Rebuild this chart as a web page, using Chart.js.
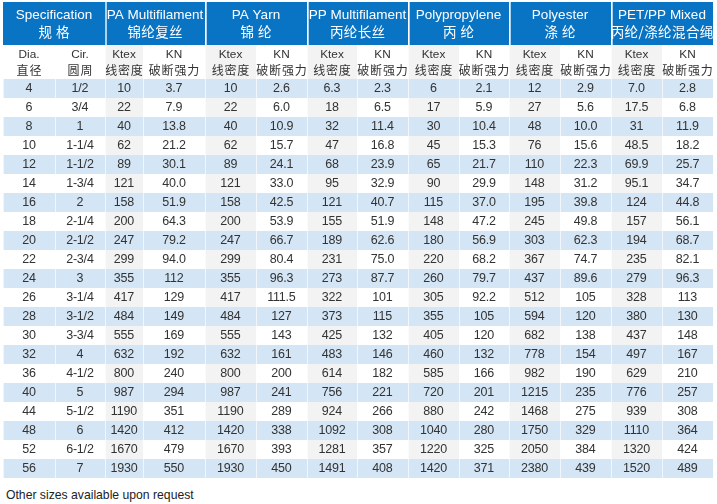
<!DOCTYPE html>
<html><head><meta charset="utf-8">
<script src="https://cdn.jsdelivr.net/npm/chart.js@4.4.1/dist/chart.umd.min.js"></script>
<style>
html,body{margin:0;padding:0;background:#fff;width:717px;height:504px;overflow:hidden}
canvas{position:absolute;left:0}
#h1{top:0} #h2{top:45px} #body{top:79px}
#foot{position:absolute;left:6px;top:488px;font:12.2px "Liberation Sans",Arial,sans-serif;color:#222;white-space:nowrap}
</style></head>
<body>
<canvas id="h1" width="717" height="45"></canvas>
<canvas id="h2" width="717" height="34"></canvas>
<canvas id="body" width="717" height="399"></canvas>
<div id="foot">Other sizes available upon request</div>
<script>
// ---- data ----
const groupsEn = ['Specification','PA Multifilament','PA Yarn','PP Multifilament','Polypropylene','Polyester','PET/PP Mixed'];
const groupsZh = ['规 格','锦纶复丝','锦 纶','丙纶长丝','丙 纶','涤 纶','丙纶/涤纶混合绳'];
const subEn = ['Dia.','Cir.','Ktex','KN','Ktex','KN','Ktex','KN','Ktex','KN','Ktex','KN','Ktex','KN'];
const subZh = ['直径','圆周','线密度','破断强力','线密度','破断强力','线密度','破断强力','线密度','破断强力','线密度','破断强力','线密度','破断强力'];
const dia = ['4','6','8','10','12','14','16','18','20','22','24','26','28','30','32','36','40','44','48','52','56'];
const cir = ['1/2','3/4','1','1-1/4','1-1/2','1-3/4','2','2-1/4','2-1/2','2-3/4','3','3-1/4','3-1/2','3-3/4','4','4-1/2','5','5-1/2','6','6-1/2','7'];
const paMultiKtex = ['10','22','40','62','89','121','158','200','247','299','355','417','484','555','632','800','987','1190','1420','1670','1930'];
const paMultiKn = ['3.7','7.9','13.8','21.2','30.1','40.0','51.9','64.3','79.2','94.0','112','129','149','169','192','240','294','351','412','479','550'];
const paYarnKtex = ['10','22','40','62','89','121','158','200','247','299','355','417','484','555','632','800','987','1190','1420','1670','1930'];
const paYarnKn = ['2.6','6.0','10.9','15.7','24.1','33.0','42.5','53.9','66.7','80.4','96.3','111.5','127','143','161','200','241','289','338','393','450'];
const ppMultiKtex = ['6.3','18','32','47','68','95','121','155','189','231','273','322','373','425','483','614','756','924','1092','1281','1491'];
const ppMultiKn = ['2.3','6.5','11.4','16.8','23.9','32.9','40.7','51.9','62.6','75.0','87.7','101','115','132','146','182','221','266','308','357','408'];
const ppKtex = ['6','17','30','45','65','90','115','148','180','220','260','305','355','405','460','585','720','880','1040','1220','1420'];
const ppKn = ['2.1','5.9','10.4','15.3','21.7','29.9','37.0','47.2','56.9','68.2','79.7','92.2','105','120','132','166','201','242','280','325','371'];
const polyesterKtex = ['12','27','48','76','110','148','195','245','303','367','437','512','594','682','778','982','1215','1468','1750','2050','2380'];
const polyesterKn = ['2.9','5.6','10.0','15.6','22.3','31.2','39.8','49.8','62.3','74.7','89.6','105','120','138','154','190','235','275','329','384','439'];
const mixedKtex = ['7.0','17.5','31','48.5','69.9','95.1','124','157','194','235','279','328','380','437','497','629','776','939','1110','1320','1520'];
const mixedKn = ['2.8','6.8','11.9','18.2','25.7','34.7','44.8','56.1','68.7','82.1','96.3','113','130','148','167','210','257','308','364','424','489'];

const columns = [dia, cir, paMultiKtex, paMultiKn, paYarnKtex, paYarnKn, ppMultiKtex, ppMultiKn,
                 ppKtex, ppKn, polyesterKtex, polyesterKn, mixedKtex, mixedKn];

// ---- layout / style ----
const colWidths = [52,50,38,62,51,51,50,51,51,50,51,51,51,51];
const totalW = colWidths.reduce((a,b)=>a+b,0);
const BLUE = '#0a74c4', LIGHT = '#d4e5f5', GRAY = '#f3f3f3', TEXT = '#333333';
const EN = '"Liberation Sans", Arial, "Noto Sans CJK SC", sans-serif';
const ZH = '"Noto Sans CJK SC", "Liberation Sans", sans-serif';
const isKtex = j => j >= 2 && j % 2 === 0;

function textPlugin(lineStyles){
  return {
    id:'cellText',
    afterDatasetsDraw(chart){
      const ctx = chart.ctx;
      ctx.save();
      ctx.textAlign = 'center';
      ctx.textBaseline = 'middle';
      chart.data.datasets.forEach((ds,j)=>{
        const meta = chart.getDatasetMeta(j);
        meta.data.forEach((el,i)=>{
          const p = el.getProps(['x','y','base'], true);
          const cx = (p.x + p.base) / 2;
          const lines = [].concat(ds.cellText[i]);
          lines.forEach((t,k)=>{
            const st = lineStyles[k];
            ctx.font = st.font;
            ctx.fillStyle = st.color;
            const sp = st.spacing || 0;
            ctx.letterSpacing = sp + 'px';
            ctx.fillText(String(t), cx + sp/2, p.y + st.dy);
          });
        });
      });
      ctx.restore();
    }
  };
}

function tableChart(id, labels, datasets, padTop, lineStyles){
  return new Chart(document.getElementById(id), {
    type:'bar',
    data:{ labels, datasets: datasets.map(d=>Object.assign({
      barPercentage:1, categoryPercentage:1, borderSkipped:false, borderColor:'#ffffff', stack:'t'
    }, d)) },
    options:{
      indexAxis:'y', responsive:false, animation:false, maintainAspectRatio:false,
      layout:{ padding:{ left:3, right:4, top:padTop, bottom:0 } },
      scales:{
        x:{ stacked:true, display:false, min:0, max:totalW },
        y:{ stacked:true, display:false }
      },
      plugins:{ legend:{display:false}, tooltip:{enabled:false} }
    },
    plugins:[ textPlugin(lineStyles) ]
  });
}

// header row 1: groups
tableChart('h1', ['group'], groupsEn.map((g,k)=>({
  data:[ colWidths[2*k] + colWidths[2*k+1] ],
  cellText:[[g, groupsZh[k]]],
  backgroundColor: BLUE,
  borderWidth:{ left: k===0 ? 0 : 2, right:0, top:0, bottom:0 }
})), 2, [
  { font:'13.5px ' + EN, color:'#ffffff', dy:-8.5, spacing:0 },
  { font:'13.5px ' + ZH, color:'#ffffff', dy:8.5, spacing:0.4 }
]);

// header row 2: sub headers
tableChart('h2', ['sub'], subEn.map((s,j)=>({
  data:[ colWidths[j] ],
  cellText:[[s, subZh[j]]],
  backgroundColor: isKtex(j) ? GRAY : '#ffffff',
  borderWidth:{ left:1, right:0, top:0, bottom:0 }
})), 0, [
  { font:'11.8px ' + EN, color:TEXT, dy:-7.5, spacing:0 },
  { font:'12px ' + ZH, color:TEXT, dy:8, spacing:0.8 }
]);

// body rows
tableChart('body', dia, columns.map((col,j)=>({
  data: col.map(()=>colWidths[j]),
  cellText: col,
  backgroundColor: c => (c.dataIndex % 2 === 0) ? LIGHT : (isKtex(j) ? GRAY : '#ffffff'),
  borderWidth:{ left:1, right:0, top:0, bottom:0 }
})), 0, [
  { font:'12.5px ' + EN, color:TEXT, dy:0.5, spacing:-0.2 }
]);
</script>
</body></html>
